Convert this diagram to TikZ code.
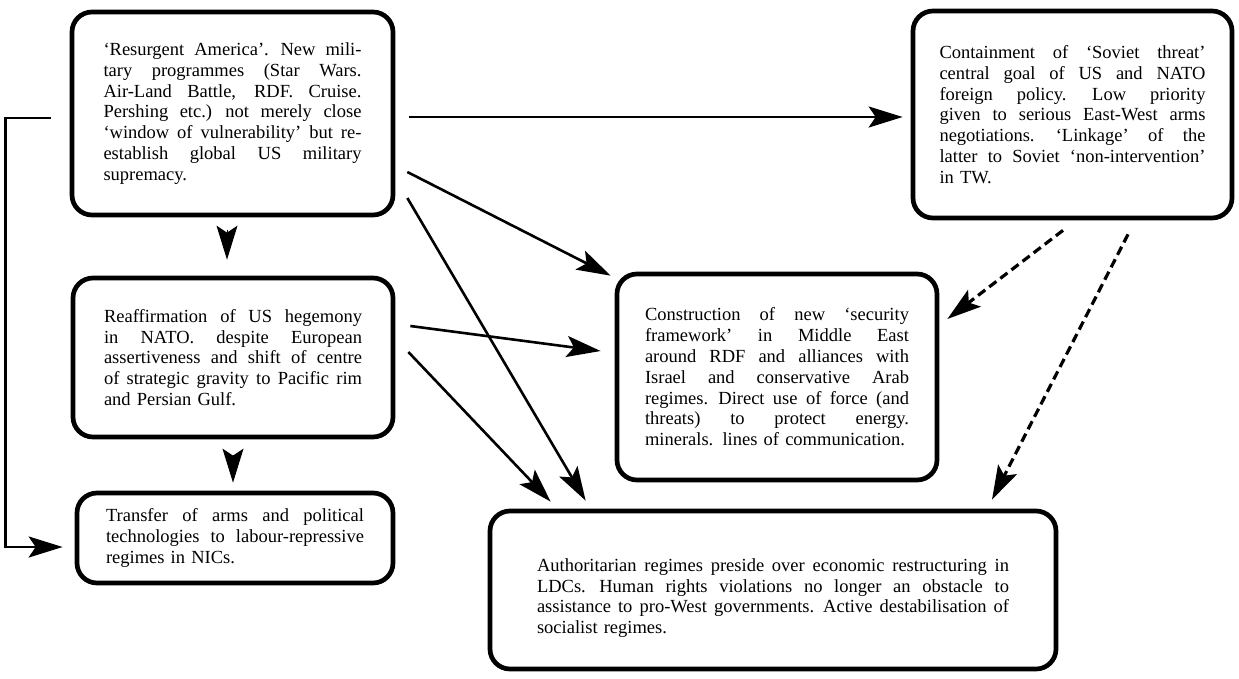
\documentclass[tikz,border=0pt]{standalone}
\usepackage{fontspec}
\setmainfont{Liberation Serif}
\usetikzlibrary{arrows.meta,calc}

% one fully justified line of a box text, \jw wide
\newlength{\jw}
\newcommand{\jl}[1]{\hbox to \jw{\spaceskip=0.25em plus 2em minus 0.05em
  \xspaceskip=0.35em plus 2em minus 0.05em #1}\par}

\begin{document}
\begin{tikzpicture}[x=1pt,y=-1pt,
  box/.style={draw, line width=4.7pt, rounded corners=20pt, inner sep=0pt,
    align=left, font=\fontsize{18.5}{20.8}\selectfont},
  link/.style={line width=2.6pt, -{Stealth[length=34pt,width=21pt,inset=7pt]}},
  dlink/.style={link, line width=3.2pt, dash pattern=on 9pt off 5pt},
  stub/.style={line width=1pt, -{Stealth[length=34pt,width=21pt,inset=7pt]}}]

\fill[white] (0,0) rectangle (1239,678);
\useasboundingbox (0,0) rectangle (1239,678);

\node[box, minimum width=321pt, minimum height=203pt, text width=258pt] (A) at (232.5,113.5) {\jw=258pt
\jl{‘Resurgent America’. New mili-}
\jl{tary programmes (Star Wars.}
\jl{Air-Land Battle, RDF. Cruise.}
\jl{Pershing etc.) not merely close}
\jl{‘window of vulnerability’ but re-}
\jl{establish global US military}
supremacy.};

\node[box, minimum width=319pt, minimum height=207pt, text width=266pt] (D) at (1072.5,114.5) {\jw=266pt
\jl{Containment of ‘Soviet threat’}
\jl{central goal of US and NATO}
\jl{foreign policy. Low priority}
\jl{given to serious East-West arms}
\jl{negotiations. ‘Linkage’ of the}
\jl{latter to Soviet ‘non-intervention’}
in TW.};

\node[box, minimum width=320pt, minimum height=159pt, text width=258pt] (B) at (233,357.5) {\jw=258pt
\jl{Reaffirmation of US hegemony}
\jl{in NATO. despite European}
\jl{assertiveness and shift of centre}
\jl{of strategic gravity to Pacific rim}
and Persian Gulf.};

\node[box, minimum width=316pt, minimum height=90pt, text width=258pt] (C) at (235,538) {\jw=258pt
\jl{Transfer of arms and political}
\jl{technologies to labour-repressive}
regimes in NICs.};

\node[box, minimum width=320pt, minimum height=206pt, text width=264pt] (E) at (777,377) {\jw=264pt
\jl{Construction of new ‘security}
\jl{framework’ in Middle East}
\jl{around RDF and alliances with}
\jl{Israel and conservative Arab}
\jl{regimes. Direct use of force (and}
\jl{threats) to protect energy.}
minerals. lines of communication.};

% the first line carries a tall strut to set the text a little lower
\node[box, minimum width=566pt, minimum height=158pt, text width=472pt] (F) at (773,590) {\jw=472pt
\jl{\rule{0pt}{29pt}Authoritarian regimes preside over economic restructuring in}
\jl{LDCs. Human rights violations no longer an obstacle to}
\jl{assistance to pro-West governments. Active destabilisation of}
socialist regimes.};

% solid connectors
\draw[link] ($(A.east)+(14,3.5)$) -- ($(D.west)+(-8,2.5)$);
\draw[link] ($(A.east)+(12,58.5)$) -- ($(E.north west)+(-4,4)$);
\draw[link] ($(A.east)+(12,84.5)$) -- ($(F.north west)+(98,-8)$);
\draw[link] ($(B.east)+(15,-31.5)$) -- ($(E.west)+(-14,-26)$);
\draw[link] ($(B.east)+(13,-5.5)$) -- ($(F.north west)+(63,-7)$);

% dashed connectors
\draw[dlink] ($(D.south)+(-9.5,10)$) -- ($(E.east)+(8,-58)$);
\draw[dlink] ($(D.south)+(55.5,14)$) -- ($(F.north)+(219,-9)$);

% free-standing heads between the stacked boxes
\draw[stub] ($(A.south)+(-5.5,13)$) -- ($(B.north)+(-6,-16)$);
\draw[stub] ($(B.south)+(0,16)$) -- ($(C.north)+(-2,-8)$);

% feedback loop on the left
\draw[link] ($(A.west)+(-19,4.5)$) -- ++(-45,0) |- ($(C.west)+(-12,9)$);

\end{tikzpicture}
\end{document}
